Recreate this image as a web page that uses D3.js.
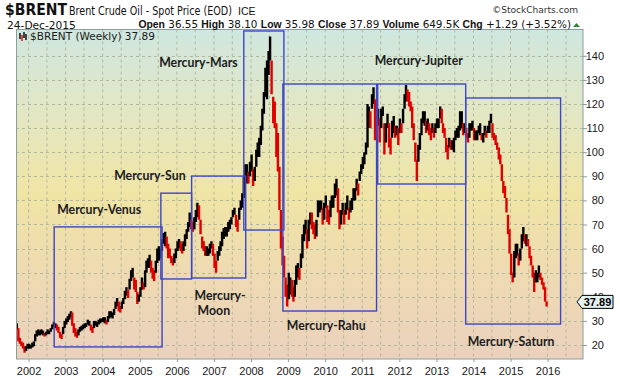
<!DOCTYPE html>
<html><head><meta charset="utf-8">
<script src="https://cdn.jsdelivr.net/npm/d3@7"></script>
<style>body{margin:0;background:#fff}svg{display:block}</style>
</head><body>
<svg id="c" width="620" height="376"></svg>
<script>
// ---------------- DATA ----------------
const years = [2002,2003,2004,2005,2006,2007,2008,2009,2010,2011,2012,2013,2014,2015,2016];
const yTicks = [20,30,40,50,60,70,80,90,100,110,120,130,140];
// half-monthly bars [low, high]; 2001 starts in September
const p2001 = [[26.5,29],[21.5,27],[20.5,23],[19.5,21.5],[18.5,21],[16.8,19.5],[17.5,19.5],[18.5,20.5]];
const p2002 = [[18.5,20.5],[18.5,20],[19,21],[19.5,21.5],[21.5,24.5],[23.5,26],[24,26.5],[24,26],[24.5,26.5],[24,26],[23.5,25],[24,25.5],[24.5,26.5],[24.5,26],[25.5,27],[26.5,28.5],[27.5,29.5],[27,29],[26,28.5],[25,27.5],[23,25.5],[22.5,24.5],[24.5,27.5],[27,30]];
const p2003 = [[28.5,31],[29.5,32],[30.5,33],[31.5,34],[28,33.5],[25,29],[23.5,27],[23,25.5],[24,26.5],[25.5,27.5],[26,28],[26.5,28.5],[27,29],[27.5,29],[28.5,30.5],[28,30],[26,28.5],[25,27.5],[27,30],[28,30],[27.5,29.5],[28.5,30.5],[29,31],[29.5,31]];
const p2004 = [[29.5,31.5],[29,31.5],[28.5,30.5],[29.5,32],[31,34],[31.5,34],[31,33.5],[32.5,35],[35,38],[36,39.5],[34,38],[33.5,36],[35,38],[37,39.5],[39,42.5],[40.5,44],[39.5,43],[43,47.5],[46.5,51],[48,52],[43,48],[42,47],[37,42],[38,41]];
const p2005 = [[40,44],[43,48],[43,46],[44,51],[50,55],[52,56],[52,57.5],[50,55],[47.5,52],[46.5,51],[50,55],[54,60],[55,61],[56,60],[59,64],[62,66.5],[61,67],[60,65],[56,62],[56,60],[54,57],[53,56],[54,58],[56,60]];
const p2006 = [[59,63],[60,64],[59,63],[58,62],[59,63],[61,66],[64,68],[67,71],[69,75],[68,72],[67,71],[68,73],[71,76],[73,79],[72,78],[66,72],[60,65],[59,63],[57,61],[57,61],[57,60],[58,62],[60,63],[57,62]];
const p2007 = [[52,58],[50,55],[55,59],[57,61],[59,63],[61,67],[64,68.5],[65,69],[65,69],[67,71],[68,72],[70,73],[73,76],[74,77],[69,74],[67,72],[72,77],[76,80],[77,83],[81,90],[88,95],[87,95],[87,92],[90,96]];
const p2008 = [[92,99],[86,93],[88,94],[94,101],[98,104],[98,106],[103,111],[109,118],[116,125],[123,135],[122,138],[132,142],[138,148],[124,138],[112,123],[110,121],[98,112],[92,108],[76,94],[60,76],[53,65],[48,57],[40,48],[36,45]];
const p2009 = [[39,50],[41,48],[40,47],[38,44],[40,47],[45,53],[48,54],[47,52],[52,58],[56,66],[63,70],[66,72],[60,68],[63,72],[70,75],[68,75],[66,71],[64,70],[65,72],[73,80],[75,80],[76,80],[70,77],[72,79]];
const p2010 = [[77,82],[71,78],[70,76],[73,80],[77,82],[77,82],[81,87],[82,89],[75,85],[68,76],[70,76],[74,79],[70,76],[74,79],[76,82],[72,77],[75,80],[76,81],[80,85],[80,85],[84,89],[82,87],[88,92],[91,95]];
const p2011 = [[93,98],[95,100],[99,104],[102,120],[110,119],[110,117],[118,124],[120,127],[105,122],[108,115],[111,118],[104,114],[110,118],[115,119],[99,112],[104,112],[110,116],[102,112],[99,106],[106,113],[108,115],[106,111],[107,111],[103,110]];
const p2012 = [[108,114],[108,112],[112,118],[118,124],[121,128],[121,126],[119,125],[117,121],[110,119],[105,112],[96,104],[88,97],[96,103],[101,108],[107,114],[112,117],[111,117],[108,113],[109,114],[107,112],[105,110],[108,112],[106,110],[108,112]];
const p2013 = [[110,114],[110,114],[114,119],[112,118],[108,112],[106,110],[100,106],[97,103],[102,106],[101,105],[101,105],[100,106],[105,109],[106,110],[106,111],[109,117],[110,117],[107,112],[108,112],[106,110],[104,108],[106,112],[109,112],[109,113]];
const p2014 = [[105,110],[105,109],[105,109],[108,111],[107,112],[105,108],[104,108],[107,111],[106,109],[108,111],[108,113],[112,116],[106,112],[105,108],[103,107],[101,104],[97,102],[95,99],[88,95],[83,88],[81,86],[75,81],[66,74],[58,68]];
const p2015 = [[49,58],[46,50],[48,59],[56,62],[57,62],[53,58],[55,60],[60,66],[63,69],[62,66],[61,66],[61,64],[56,61],[53,57],[48,53],[42,50],[46,51],[46,50],[48,53],[47,50],[45,48],[43,46],[38,44],[35.98,38.1]];
const lastClose = 37.89;
// annotation boxes (dates and price bounds)
const periodNames = ["Mercury-Venus","Mercury-Sun","Mercury-Moon","Mercury-Mars","Mercury-Rahu","Mercury-Jupiter","Mercury-Saturn"];
const periodStart = ["2002-09-10","2005-07-27","2006-05-26","2007-10-22","2008-11-10","2011-06-02","2013-10-16"];
const periodEnd   = ["2005-08-08","2006-05-26","2007-11-10","2008-11-20","2011-05-22","2013-10-16","2016-05-08"];
const periodLow   = [19.2,47.4,47.8,67.7,34.1,86.8,28.7];
const periodHigh  = [69,83,90.1,150.3,128.3,128.3,122.5];

// ---------------- BUILD ----------------
const yearBlocks = [[2001,8,p2001],[2002,0,p2002],[2003,0,p2003],[2004,0,p2004],[2005,0,p2005],[2006,0,p2006],[2007,0,p2007],[2008,0,p2008],[2009,0,p2009],[2010,0,p2010],[2011,0,p2011],[2012,0,p2012],[2013,0,p2013],[2014,0,p2014],[2015,0,p2015]];
const bars = [];
yearBlocks.forEach(([yr,m0,arr])=>{
  arr.forEach((d,i)=>{
    const m = m0 + Math.floor(i/2);
    const day = i%2 ? 22 : 7;
    bars.push({date:new Date(yr,m,day), lo:d[0], hi:d[1]});
  });
});
bars.forEach((b,i)=>{
  const mid=(b.lo+b.hi)/2;
  const pm = i? (bars[i-1].lo+bars[i-1].hi)/2 : mid;
  b.down = mid < pm - 0.6;
});

const svg = d3.select("#c");
const P = {l:16, r:583, t:29.5, b:359};
const x = d3.scaleTime().domain([new Date(2002,0,1), new Date(2016,0,1)]).range([28.6, 547.6]);
const y = d3.scaleLinear().domain([20,140]).range([345, 55.8]);

// gradient
const defs = svg.append("defs");
const g = defs.append("linearGradient").attr("id","bg").attr("x1",0).attr("y1",0).attr("x2",0).attr("y2",1);
[["0%","#cfe7e0"],["25%","#e2e7c4"],["50%","#f0e5a4"],["75%","#eedab2"],["100%","#ebd1bd"]].forEach(s=>g.append("stop").attr("offset",s[0]).attr("stop-color",s[1]));
defs.append("clipPath").attr("id","clip").append("rect").attr("x",P.l).attr("y",P.t).attr("width",P.r-P.l).attr("height",P.b-P.t);

svg.append("rect").attr("x",P.l).attr("y",P.t).attr("width",P.r-P.l).attr("height",P.b-P.t).attr("fill","url(#bg)");

// grid
const grid = svg.append("g").attr("clip-path","url(#clip)");
const halfYears = [];
for(let yr=2001; yr<=2016; yr++){ halfYears.push(new Date(yr,0,1)); halfYears.push(new Date(yr,6,1)); }
grid.selectAll("line.v").data(halfYears).join("line")
  .attr("x1",d=>x(d)).attr("x2",d=>x(d)).attr("y1",P.t).attr("y2",P.b)
  .attr("stroke","#b4b89c").attr("stroke-dasharray","3,3").attr("stroke-width",1);
grid.selectAll("line.h").data(yTicks).join("line")
  .attr("x1",P.l).attr("x2",P.r).attr("y1",d=>Math.round(y(d))+0.5).attr("y2",d=>Math.round(y(d))+0.5)
  .attr("stroke","#b4b89c").attr("stroke-dasharray","3,3").attr("stroke-width",1);

// bars
const gb = svg.append("g").attr("clip-path","url(#clip)");
gb.selectAll("line").data(bars).join("line")
  .attr("x1",d=>x(d.date)).attr("x2",d=>x(d.date))
  .attr("y1",d=>y(d.lo)).attr("y2",d=>y(d.hi))
  .attr("stroke",d=>d.down?"#e00000":"#000").attr("stroke-width",2.4);

// boxes
const gbox = svg.append("g");
const boxes = periodNames.map((n,i)=>({name:n, s:new Date(periodStart[i]), e:new Date(periodEnd[i]), lo:periodLow[i], hi:periodHigh[i]}));
gbox.selectAll("rect").data(boxes).join("rect")
  .attr("x",d=>x(d.s)).attr("y",d=>y(d.hi)).attr("width",d=>x(d.e)-x(d.s)).attr("height",d=>y(d.lo)-y(d.hi))
  .attr("fill","none").attr("stroke","#3c46c8").attr("stroke-width",1.4);

// box labels (layout relative to box)
const layout = {
  "Mercury-Venus":   b=>({x:x(b.s)+3,  y:y(b.hi)-13, a:"start"}),
  "Mercury-Sun":     b=>({x:x(b.e)-6,  y:y(b.hi)-13, a:"end"}),
  "Mercury-Mars":    b=>({x:x(b.s)-6,  y:y(b.hi)+36, a:"end"}),
  "Mercury-Moon":    b=>({x:x(b.s)+3,  y:y(b.lo)+22, a:"start", two:true}),
  "Mercury-Rahu":    b=>({x:x(b.s)+4,  y:y(b.lo)+19, a:"start"}),
  "Mercury-Jupiter": b=>({x:x(b.s)-3,  y:y(b.hi)-19, a:"start"}),
  "Mercury-Saturn":  b=>({x:x(b.s)+2,  y:y(b.lo)+22, a:"start"})
};
boxes.forEach(b=>{
  const L = layout[b.name](b);
  const t = svg.append("text").attr("x",L.x).attr("y",L.y).attr("text-anchor",L.a)
    .attr("font-family","Lato, 'Open Sans', sans-serif").attr("font-weight",700).attr("font-size",12.3).attr("fill","#1c1c1c");
  if(L.two){
    const parts = b.name.split("-");
    t.append("tspan").attr("x",L.x).text(parts[0]+"-");
    t.append("tspan").attr("x",L.x+3).attr("dy",15).text(parts[1]);
  } else t.text(b.name);
});

// plot border
svg.append("rect").attr("x",P.l+0.5).attr("y",P.t).attr("width",P.r-P.l-0.5).attr("height",P.b-P.t)
  .attr("fill","none").attr("stroke","#8a9e9e").attr("stroke-width",1);

// x axis
const xa = svg.append("g").attr("transform",`translate(0,${P.b})`)
  .call(d3.axisBottom(x).tickValues(years.map(yr=>new Date(yr,0,1))).tickFormat(d3.timeFormat("%Y")).tickSize(3));
xa.select(".domain").remove();
xa.selectAll(".tick line").attr("stroke","#8a9e9e");
xa.selectAll("text").attr("font-family","'Liberation Sans', Arial, sans-serif").attr("font-size",11).attr("fill","#1a1a1a").attr("dy","0.9em");

// y axis
const ya = svg.append("g").attr("transform",`translate(${P.r},0)`)
  .call(d3.axisRight(y).tickValues(yTicks).tickSize(4));
ya.select(".domain").remove();
ya.selectAll(".tick line").attr("stroke","#8a9e9e");
ya.selectAll("text").attr("font-family","'Liberation Sans', Arial, sans-serif").attr("font-size",11).attr("fill","#1a1a1a")
  .attr("text-anchor","end").attr("x",21);

// last price tag
const yc = y(lastClose);
svg.append("path").attr("d",`M577,${yc} L582,${yc-6.5} L613,${yc-6.5} L613,${yc+6.5} L582,${yc+6.5} Z`)
  .attr("fill","#e4f3f0").attr("stroke","#000").attr("stroke-width",1);
svg.append("text").attr("x",597.5).attr("y",yc+4).attr("text-anchor","middle")
  .attr("font-family","'Liberation Sans', Arial, sans-serif").attr("font-weight",700).attr("font-size",11).text(lastClose.toFixed(2));

// legend inside plot
const lg = svg.append("g");
[[20,33,39,"#000"],[22,35,41,"#e00000"],[24,32,38,"#000"],[26,34,40,"#000"]].forEach(v=>
  lg.append("line").attr("x1",v[0]).attr("x2",v[0]).attr("y1",v[1]).attr("y2",v[2]).attr("stroke",v[3]).attr("stroke-width",1.4));
lg.append("text").attr("x",30).attr("y",40).attr("font-family","'DejaVu Sans', Verdana, sans-serif").attr("font-size",10.5).attr("fill","#1a1a1a")
  .text("$BRENT (Weekly) "+lastClose.toFixed(2));

// header
function fit(sel,w){ const L=sel.node().getComputedTextLength(); if(L>0){ sel.attr("font-size", parseFloat(sel.attr("font-size"))*w/L);} }
function squeeze(px,py,txt,fam,fs,fw,w){
  const gg = svg.append("g");
  const t = gg.append("text").attr("x",0).attr("y",0).attr("font-family",fam).attr("font-size",fs).attr("font-weight",fw).attr("fill","#111").text(txt);
  const L = t.node().getComputedTextLength();
  gg.attr("transform",`translate(${px},${py}) scale(${w/L},1)`);
}
const narrow = "'Liberation Sans Narrow','DejaVu Sans Condensed','Arial Narrow',sans-serif";
squeeze(5,15,"$BRENT",narrow,15.5,700,62);
squeeze(69,15,"Brent Crude Oil - Spot Price (EOD)",narrow,12.5,400,163);
svg.append("text").attr("x",238).attr("y",15).attr("font-family","'Liberation Sans', Arial, sans-serif").attr("font-size",10.5).attr("fill","#111").text("ICE");
const sc = svg.append("text").attr("x",578).attr("y",13).attr("text-anchor","end").attr("font-family","'DejaVu Sans', Verdana, sans-serif").attr("font-size",10).attr("fill","#333").text("\u00A9StockCharts.com");
fit(sc,86);
const dt = svg.append("text").attr("x",7).attr("y",28.5).attr("font-family","'DejaVu Sans', Verdana, sans-serif").attr("font-size",10).attr("fill","#111").text("24-Dec-2015");
fit(dt,69);
const row = svg.append("text").attr("x",571).attr("y",28).attr("text-anchor","end").attr("font-size",11).attr("fill","#111");
[["Open",1],[" 36.55 ",0],["High",1],[" 38.10 ",0],["Low",1],[" 35.98 ",0],["Close",1],[" 37.89 ",0],["Volume",1],[" 649.5K ",0],["Chg",1],[" +1.29 (+3.52%)",0]].forEach(p=>{
  row.append("tspan").attr("font-family",p[1]?"'Liberation Sans', Arial, sans-serif":"'DejaVu Sans', Verdana, sans-serif")
    .attr("font-weight",p[1]?700:400).style("white-space","pre").text(p[0]);
});
row.attr("xml:space","preserve");
fit(row,433);
svg.append("path").attr("d","M573,27 L576.5,23 L580,27 Z").attr("fill","#2e8b2e");
</script>
</body></html>
